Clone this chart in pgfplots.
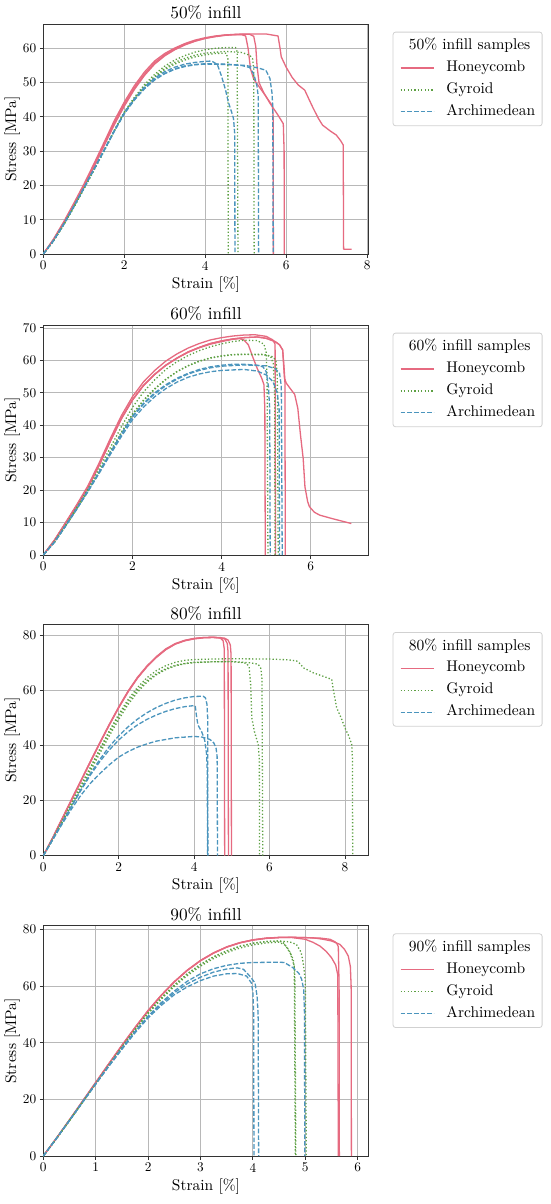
\documentclass[border=0pt]{standalone}
\usepackage{fontspec}
\setmainfont{lmroman10-regular}[Extension=.otf]
\usepackage{pgfplots}
\pgfplotsset{compat=1.18}
\definecolor{honey}{HTML}{E66A80}
\definecolor{gyro}{HTML}{5DA043}
\definecolor{arch}{HTML}{4B95BD}
\definecolor{gridc}{HTML}{B8B8B8}
\pgfplotsset{
  every axis title shift=0pt,
  hc/.style={color=honey, line width=1.3pt, solid, line join=round},
  gy/.style={color=gyro, line width=1.3pt, dash pattern=on 1.3pt off 2.1pt, line join=round},
  ar/.style={color=arch, line width=1.3pt, dash pattern=on 4.6pt off 2pt, line join=round},
  common/.style={
    scale only axis, width=325.4pt, height=230pt, xmin=0, ymin=0,
    anchor=south west,
    grid=major, major grid style={color=gridc, line width=0.8pt},
    axis line style={black!80, line width=0.9pt},
    tick pos=left, tick align=outside, major tick length=3.5pt,
    tick style={black!80, line width=0.9pt},
    ticklabel style={font=\fontsize{13.3}{15}\selectfont},
    /pgf/number format/assume math mode=true,
    label style={font=\fontsize{15.5}{18}\selectfont},
    title style={font=\fontsize{17.3}{20}\selectfont, at={(0.5,1)}, anchor=base, yshift=5.3pt},
    xlabel style={at={(axis description cs:0.5,-0.148)}, anchor=base},
    ylabel style={at={(axis description cs:-0.0839,0.5)}, anchor=base},
    xlabel={Strain [\%]}, ylabel={Stress [MPa]},
    legend cell align=left,
    legend image code/.code={\draw[##1] (0pt,0pt) -- (33pt,0pt);},
    legend style={at={(1.0737,0.9665)}, anchor=north west, draw=black!18, line width=0.8pt,
      rounded corners=2.5pt, fill=white, inner xsep=7pt, inner ysep=5pt,
      font=\fontsize{15.5}{18}\selectfont, column sep=12pt, row sep=3.9pt,
      nodes={inner sep=0pt, text height=12.6pt, text depth=5.4pt}},
  }
}
\begin{document}
\begin{tikzpicture}
\fill[white] (0pt,0pt) rectangle (550pt,-1204pt);
\path[use as bounding box] (0pt,0pt) rectangle (550pt,-1204pt);

% ---------------- 50% ----------------
\begin{axis}[common, at={(43.3pt,-254pt)}, xmax=8.04, ymax=67.1,
  xtick={0,2,4,6,8}, ytick={0,10,...,60}, title={50\% infill}]
\addlegendimage{empty legend}\addlegendentry{\hspace*{-37.6pt}50\% infill samples}
\addplot[hc] coordinates {(0,0)(0.25,4.3)(0.5,9.3)(0.75,14.7)(1,20.3)(1.25,26.3)(1.5,32.5)(1.75,38.8)(2,44.3)(2.25,49.1)(2.5,53.1)(2.75,56.3)(3,58.5)(3.25,60.1)(3.5,61.4)(3.75,62.4)(4,63.1)(4.25,63.6)(4.5,63.9)(4.75,64.0)(4.9,64.0)(5.0,63.6)(5.06,60)(5.12,54)(5.2,51)(5.35,48.5)(5.5,46)(5.66,43.2)(5.68,40)(5.685,0)};
\addlegendentry{Honeycomb}
\addplot[hc, forget plot] coordinates {(0,0)(0.25,4.2)(0.5,9.1)(0.75,14.4)(1,19.9)(1.25,25.8)(1.5,32)(1.75,38.2)(2,43.7)(2.25,48.5)(2.5,52.5)(2.75,55.8)(3,58.1)(3.25,59.8)(3.5,61.1)(3.75,62.1)(4,62.9)(4.25,63.4)(4.5,63.8)(4.75,64)(5.0,64.1)(5.1,64.1)(5.2,63.5)(5.25,60.5)(5.28,55)(5.33,50)(5.45,47)(5.6,44)(5.8,40.5)(5.93,38)(5.95,30)(5.955,0)};
\addplot[hc, forget plot] coordinates {(0,0)(0.25,4.1)(0.5,8.9)(0.75,14.2)(1,19.6)(1.25,25.4)(1.5,31.5)(1.75,37.6)(2,43.1)(2.25,48)(2.5,52.1)(2.75,55.4)(3,57.8)(3.25,59.6)(3.5,61)(3.75,62.1)(4,62.9)(4.25,63.5)(4.5,63.9)(4.75,64.1)(5,64.2)(5.5,64.2)(5.8,63.6)(5.85,60)(5.88,57.5)(6,54.5)(6.15,51.5)(6.3,49.3)(6.46,47.8)(6.57,45)(6.67,42.5)(6.8,39.5)(6.9,37.6)(7.1,35.8)(7.24,34.7)(7.35,33)(7.41,31.8)(7.42,1.4)(7.62,1.4)};
\addplot[gy] coordinates {(0,0)(0.25,3.8)(0.5,8.5)(0.75,13.6)(1,19)(1.25,24.5)(1.5,30)(1.75,35.8)(2,41.2)(2.25,45.3)(2.5,48.8)(2.75,51.6)(3,53.8)(3.25,55.4)(3.5,56.6)(3.75,57.5)(4,58.1)(4.25,58.5)(4.52,58.6)(4.56,57)(4.57,0)};
\addlegendentry{Gyroid}
\addplot[gy, forget plot] coordinates {(0,0)(0.25,3.7)(0.5,8.4)(0.75,13.5)(1,18.9)(1.25,24.4)(1.5,30)(1.75,35.9)(2,41.4)(2.25,45.7)(2.5,49.4)(2.75,52.4)(3,54.8)(3.25,56.6)(3.5,57.9)(3.75,58.9)(4,59.6)(4.25,60)(4.5,60.2)(4.75,60.2)(4.79,59)(4.81,0)};
\addplot[gy, forget plot] coordinates {(0,0)(0.25,3.8)(0.5,8.5)(0.75,13.6)(1,19.1)(1.25,24.6)(1.5,30.2)(1.75,36)(2,41.3)(2.25,45.4)(2.5,48.9)(2.75,51.8)(3,54.1)(3.25,55.9)(3.5,57.1)(3.75,58)(4,58.6)(4.5,59.1)(4.9,58.8)(5.1,58)(5.17,57)(5.2,54)(5.21,0)};
\addplot[ar] coordinates {(0,0)(0.25,3.9)(0.5,8.6)(0.75,13.8)(1,19.2)(1.25,24.7)(1.5,30.3)(1.75,35.9)(2,41.2)(2.25,45.3)(2.5,48.7)(2.75,51.3)(3,53.2)(3.25,54.5)(3.5,55.4)(3.75,55.9)(4,56.2)(4.16,56.3)(4.3,55.3)(4.4,52)(4.5,48)(4.57,44.4)(4.65,41.5)(4.7,39.5)(4.73,35)(4.735,0)};
\addlegendentry{Archimedean}
\addplot[ar, forget plot] coordinates {(0,0)(0.25,3.9)(0.5,8.6)(0.75,13.8)(1,19.2)(1.25,24.7)(1.5,30.2)(1.75,35.8)(2,41)(2.25,45)(2.5,48.3)(2.75,50.8)(3,52.6)(3.25,53.9)(3.5,54.7)(3.75,55.2)(4,55.4)(4.5,55.3)(4.9,55)(5.1,54.4)(5.2,52.5)(5.28,49)(5.31,46)(5.32,0)};
\addplot[ar, forget plot] coordinates {(0,0)(0.25,3.8)(0.5,8.5)(0.75,13.7)(1,19.1)(1.25,24.6)(1.5,30.1)(1.75,35.7)(2,40.9)(2.25,44.9)(2.5,48.2)(2.75,50.8)(3,52.7)(3.25,54)(3.5,54.9)(3.75,55.3)(4,55.5)(4.5,55.4)(5,55)(5.3,54.3)(5.5,53.6)(5.6,51.2)(5.65,47)(5.67,43)(5.68,0)};
\end{axis}

% ---------------- 60% ----------------
\begin{axis}[common, at={(43.3pt,-555pt)}, xmax=7.3, ymax=70.9,
  xtick={0,2,4,6}, ytick={0,10,...,70}, title={60\% infill}]
\addlegendimage{empty legend}\addlegendentry{\hspace*{-37.6pt}60\% infill samples}
\addplot[hc] coordinates {(0,0)(0.25,4.5)(0.5,9.8)(0.75,15.2)(1,20.8)(1.25,27.6)(1.5,35)(1.75,42)(2,47.8)(2.25,52.3)(2.5,55.7)(2.75,58.5)(3,60.7)(3.25,62.5)(3.5,63.9)(3.75,65)(4,65.8)(4.25,66.5)(4.4,66.7)(4.5,66.3)(4.6,64.8)(4.7,61)(4.8,57.5)(4.9,54.5)(4.95,52.5)(4.97,45)(4.98,0)};
\addlegendentry{Honeycomb}
\addplot[hc, forget plot] coordinates {(0,0)(0.25,4.6)(0.5,10)(0.75,15.5)(1,21.3)(1.25,28.3)(1.5,35.8)(1.75,42.9)(2,48.8)(2.25,53.4)(2.5,56.9)(2.75,59.8)(3,62)(3.25,63.8)(3.5,65.2)(3.75,66.3)(4,67)(4.25,67.5)(4.5,67.8)(4.75,67.9)(5,67.4)(5.15,66.3)(5.2,65)(5.21,0)};
\addplot[hc, forget plot] coordinates {(0,0)(0.25,4.5)(0.5,9.8)(0.75,15.2)(1,20.8)(1.25,27.6)(1.5,35)(1.75,42)(2,47.8)(2.25,52.3)(2.5,55.7)(2.75,58.5)(3,60.7)(3.25,62.6)(3.5,64)(3.75,65.2)(4,66)(4.25,66.6)(4.5,67)(4.8,67.2)(5,66.8)(5.2,65.8)(5.3,64.8)(5.37,63.2)(5.4,58)(5.42,54)(5.43,0)};
\addplot[hc, forget plot] coordinates {(0,0)(0.25,4.5)(0.5,9.8)(0.75,15.2)(1,20.8)(1.25,27.6)(1.5,35)(1.75,42)(2,47.8)(2.25,52.3)(2.5,55.7)(2.75,58.5)(3,60.7)(3.25,62.6)(3.5,64)(3.75,65.2)(4,66)(4.25,66.6)(4.5,67)(4.8,67.2)(5,66.8)(5.2,65.8)(5.3,64.8)(5.37,63.2)(5.41,54.5)(5.45,53)(5.53,51.5)(5.64,49.5)(5.71,45.2)(5.77,37)(5.83,29.8)(5.87,21)(5.93,16.5)(5.97,14.9)(6.08,13.2)(6.2,12.3)(6.46,11.3)(6.6,10.8)(6.91,9.7)};
\addplot[gy] coordinates {(0,0)(0.25,4.2)(0.5,9.3)(0.75,14.7)(1,20.3)(1.25,26.5)(1.5,33)(1.75,39.5)(2,45.5)(2.25,50.3)(2.5,54)(2.75,57.2)(3,59.6)(3.25,61.5)(3.5,63)(3.75,64.2)(4,65.1)(4.25,65.8)(4.5,66.2)(4.8,66.1)(4.95,65)(5,62.5)(5.02,55)(5.04,0)};
\addlegendentry{Gyroid}
\addplot[gy, forget plot] coordinates {(0,0)(0.25,4)(0.5,9)(0.75,14.3)(1,19.8)(1.25,25.6)(1.5,31.8)(1.75,37.8)(2,43.5)(2.25,47.8)(2.5,51.3)(2.75,54.2)(3,56.6)(3.25,58.4)(3.5,59.8)(3.75,60.8)(4,61.4)(4.25,61.8)(4.5,61.9)(4.9,61.9)(5.1,61.2)(5.16,59)(5.19,50)(5.2,0)};
\addplot[gy, forget plot] coordinates {(0,0)(0.25,3.9)(0.5,8.9)(0.75,14.2)(1,19.7)(1.25,25.5)(1.5,31.6)(1.75,37.6)(2,43.3)(2.25,47.6)(2.5,51.1)(2.75,54.1)(3,56.5)(3.25,58.3)(3.5,59.7)(3.75,60.7)(4,61.3)(4.25,61.7)(4.5,61.8)(5,61.7)(5.15,61.1)(5.22,60)(5.25,55)(5.27,0)};
\addplot[ar] coordinates {(0,0)(0.25,4)(0.5,9)(0.75,14.3)(1,19.8)(1.25,25.5)(1.5,31.5)(1.75,37.3)(2,42.8)(2.25,46.8)(2.5,50)(2.75,52.5)(3,54.5)(3.25,56)(3.5,57.2)(3.75,58)(4,58.5)(4.25,58.8)(4.5,58.8)(4.8,58.5)(4.93,58)(5,56.5)(5.05,52)(5.08,45)(5.09,0)};
\addlegendentry{Archimedean}
\addplot[ar, forget plot] coordinates {(0,0)(0.25,3.9)(0.5,8.9)(0.75,14.1)(1,19.5)(1.25,25.1)(1.5,30.9)(1.75,36.5)(2,41.7)(2.25,45.6)(2.5,48.8)(2.75,51.3)(3,53.3)(3.25,54.8)(3.5,55.8)(3.75,56.5)(4,56.9)(4.5,57.2)(4.8,56.7)(5,55.5)(5.15,53.5)(5.25,50)(5.29,45)(5.3,0)};
\addplot[ar, forget plot] coordinates {(0,0)(0.25,4)(0.5,9)(0.75,14.2)(1,19.7)(1.25,25.4)(1.5,31.3)(1.75,37.1)(2,42.5)(2.25,46.5)(2.5,49.7)(2.75,52.2)(3,54.2)(3.25,55.8)(3.5,56.9)(3.75,57.7)(4,58.2)(4.5,58.6)(5,58.3)(5.2,57.5)(5.3,56)(5.34,52)(5.36,0)};
\end{axis}

% ---------------- 80% ----------------
\begin{axis}[common, at={(43.3pt,-855.7pt)}, height=231.4pt, xmax=8.63, ymax=84,
  xtick={0,2,4,6,8}, ytick={0,20,...,80}, title={80\% infill},
  xlabel style={at={(axis description cs:0.5,-0.147)}}]
\addlegendimage{empty legend}\addlegendentry{\hspace*{-37.6pt}80\% infill samples}
\addplot[hc] coordinates {(0,0)(0.25,6.6)(0.5,13.5)(0.75,20.5)(1,27.4)(1.25,34.3)(1.5,41.1)(1.75,47.7)(2,54)(2.25,59.8)(2.5,64.8)(2.75,68.9)(3,72.3)(3.25,75.1)(3.5,77)(3.75,78.2)(4,78.9)(4.25,79.2)(4.5,79.3)(4.7,79.0)(4.77,78)(4.8,75)(4.81,0)};
\addlegendentry{Honeycomb}
\addplot[hc, forget plot] coordinates {(0,0)(0.25,6.5)(0.5,13.4)(0.75,20.3)(1,27.2)(1.25,34.1)(1.5,40.9)(1.75,47.5)(2,53.8)(2.25,59.6)(2.5,64.6)(2.75,68.7)(3,72.1)(3.25,74.9)(3.5,76.9)(3.75,78.1)(4,78.8)(4.25,79.2)(4.5,79.3)(4.7,79.2)(4.82,78.6)(4.88,77)(4.9,74)(4.91,0)};
\addplot[hc, forget plot] coordinates {(0,0)(0.25,6.4)(0.5,13.3)(0.75,20.2)(1,27.1)(1.25,34)(1.5,40.8)(1.75,47.4)(2,53.7)(2.25,59.5)(2.5,64.5)(2.75,68.6)(3,72)(3.25,74.8)(3.5,76.8)(3.75,78)(4,78.7)(4.25,79.1)(4.5,79.2)(4.8,79.0)(4.9,78.3)(4.96,76.5)(4.98,73)(4.99,0)};
\addplot[gy] coordinates {(0,0)(0.25,6)(0.5,12.4)(0.75,18.8)(1,25.2)(1.25,31.6)(1.5,38.2)(1.75,44.6)(2,50.6)(2.25,55.9)(2.5,60.2)(2.75,63.6)(3,66.1)(3.25,67.9)(3.5,69.1)(3.75,69.8)(4,70.2)(4.5,70.4)(5,70.4)(5.3,70.1)(5.39,69.8)(5.46,68.5)(5.5,62)(5.53,50)(5.6,45)(5.7,40.4)(5.73,35)(5.735,0)};
\addlegendentry{Gyroid}
\addplot[gy, forget plot] coordinates {(0,0)(0.25,5.8)(0.5,12)(0.75,18.2)(1,24.5)(1.25,30.8)(1.5,37.2)(1.75,43.5)(2,49.5)(2.25,54.9)(2.5,59.4)(2.75,63)(3,65.7)(3.25,67.6)(3.5,68.9)(3.75,69.7)(4,70.1)(4.5,70.4)(5,70.5)(5.5,70)(5.7,69.5)(5.77,68)(5.8,64)(5.82,0)};
\addplot[gy, forget plot] coordinates {(0,0)(0.25,6.2)(0.5,12.7)(0.75,19.2)(1,25.7)(1.25,32.2)(1.5,38.8)(1.75,45.3)(2,51.3)(2.25,56.7)(2.5,61.1)(2.75,64.6)(3,67.2)(3.25,69)(3.5,70.2)(3.75,70.9)(4,71.2)(4.5,71.4)(5,71.5)(6,71.4)(6.5,71.1)(6.72,70.7)(6.8,69.8)(6.9,68.2)(7.16,66.4)(7.45,65)(7.65,64)(7.69,60.4)(7.78,53.7)(7.9,50)(8,46.4)(8.1,43.5)(8.18,40.4)(8.2,35)(8.205,0)};
\addplot[ar] coordinates {(0,0)(0.25,6)(0.5,12)(0.75,18)(1,24)(1.25,29.8)(1.5,35)(1.75,39.6)(2,43.5)(2.25,46.8)(2.5,49.6)(2.75,51.9)(3,53.8)(3.25,55.3)(3.5,56.5)(3.75,57.3)(4,57.8)(4.24,57.9)(4.3,57.3)(4.34,55)(4.36,50)(4.365,0)};
\addlegendentry{Archimedean}
\addplot[ar, forget plot] coordinates {(0,0)(0.25,6)(0.5,12)(0.75,18)(1,23.8)(1.25,29.3)(1.5,34.2)(1.75,38.4)(2,42)(2.25,45)(2.5,47.5)(2.75,49.5)(3,51.1)(3.25,52.4)(3.5,53.4)(3.75,54.1)(4,54.5)(4.03,54.4)(4.06,51)(4.1,47.5)(4.2,45)(4.28,42)(4.33,37)(4.35,30)(4.355,0)};
\addplot[ar, forget plot] coordinates {(0,0)(0.25,5.8)(0.5,11.5)(0.75,17)(1,22)(1.25,26.3)(1.5,29.8)(1.75,33)(2,35.8)(2.25,37.8)(2.5,39.4)(2.75,40.6)(3,41.6)(3.5,42.8)(4,43.3)(4.2,43.1)(4.42,42.2)(4.52,41)(4.58,39.2)(4.61,36)(4.62,0)};
\end{axis}

% ---------------- 90% ----------------
\begin{axis}[common, at={(43.3pt,-1156pt)}, height=230.3pt, xmax=6.21, ymax=81.4,
  xtick={0,1,...,6}, ytick={0,20,...,80}, title={90\% infill}]
\addlegendimage{empty legend}\addlegendentry{\hspace*{-37.6pt}90\% infill samples}
\addplot[hc] coordinates {(0,0)(0.25,6.3)(0.5,12.8)(0.75,19.4)(1,26)(1.25,32.6)(1.5,39.1)(1.75,45.4)(2,51.4)(2.25,56.8)(2.5,61.6)(2.75,65.7)(3,69.1)(3.25,71.8)(3.5,73.9)(3.75,75.4)(4,76.4)(4.25,77)(4.5,77.3)(4.75,77.3)(5,77.2)(5.3,77)(5.47,76.6)(5.56,75.8)(5.6,75.2)(5.63,74)(5.645,60)(5.65,0)};
\addlegendentry{Honeycomb}
\addplot[hc, forget plot] coordinates {(0,0)(0.25,6.3)(0.5,12.8)(0.75,19.4)(1,26)(1.25,32.6)(1.5,39.1)(1.75,45.4)(2,51.4)(2.25,56.8)(2.5,61.6)(2.75,65.7)(3,69.1)(3.25,71.8)(3.5,73.9)(3.75,75.4)(4,76.4)(4.25,77)(4.5,77.2)(4.75,77.2)(5,76.6)(5.15,75.5)(5.28,74.2)(5.4,72.3)(5.5,70.1)(5.58,67.5)(5.62,64)(5.63,0)};
\addplot[hc, forget plot] coordinates {(0,0)(0.25,6.2)(0.5,12.7)(0.75,19.3)(1,25.9)(1.25,32.5)(1.5,39)(1.75,45.3)(2,51.3)(2.25,56.7)(2.5,61.5)(2.75,65.6)(3,69)(3.25,71.7)(3.5,73.8)(3.75,75.3)(4,76.3)(4.25,76.9)(4.5,77.2)(4.75,77.3)(5,77.2)(5.2,77)(5.34,76.6)(5.5,76)(5.66,74.8)(5.75,73)(5.82,70.7)(5.86,67)(5.875,60)(5.88,0)};
\addplot[gy] coordinates {(0,0)(0.25,6.2)(0.5,12.6)(0.75,19.1)(1,25.6)(1.25,32.1)(1.5,38.5)(1.75,44.7)(2,50.6)(2.25,55.8)(2.5,60.4)(2.75,64.4)(3,67.7)(3.25,70.4)(3.5,72.5)(3.75,74.1)(4,75.2)(4.25,75.8)(4.5,76)(4.58,75.4)(4.68,73)(4.77,69.5)(4.8,65)(4.82,0)};
\addlegendentry{Gyroid}
\addplot[gy, forget plot] coordinates {(0,0)(0.25,6.2)(0.5,12.6)(0.75,19.1)(1,25.6)(1.25,32.1)(1.5,38.5)(1.75,44.7)(2,50.6)(2.25,55.8)(2.5,60.4)(2.75,64.4)(3,67.7)(3.25,70.4)(3.5,72.5)(3.75,74.1)(4,75.2)(4.25,75.8)(4.5,76)(4.7,75.7)(4.83,74.8)(4.92,72)(4.96,68.3)(5,62)(5.02,0)};
\addplot[gy, forget plot] coordinates {(0,0)(0.25,6.1)(0.5,12.5)(0.75,19)(1,25.5)(1.25,32)(1.5,38.4)(1.75,44.5)(2,50.3)(2.25,55.4)(2.5,59.9)(2.75,63.8)(3,67.1)(3.25,69.8)(3.5,71.9)(3.75,73.5)(4,74.6)(4.25,75.3)(4.5,75.6)(4.62,74.5)(4.72,71.5)(4.79,67)(4.81,0)};
\addplot[ar] coordinates {(0,0)(0.25,6.2)(0.5,12.6)(0.75,19.1)(1,25.5)(1.25,31.9)(1.5,38.1)(1.75,44)(2,49.4)(2.25,54.2)(2.5,58.3)(2.75,61.8)(3,64.4)(3.25,66.2)(3.5,67.4)(3.75,68.1)(4,68.4)(4.5,68.5)(4.6,68.4)(4.77,66.5)(4.88,64.5)(4.93,62.5)(4.97,58.9)(4.985,50)(4.99,0)};
\addlegendentry{Archimedean}
\addplot[ar, forget plot] coordinates {(0,0)(0.25,6.2)(0.5,12.6)(0.75,19.1)(1,25.5)(1.25,31.8)(1.5,37.9)(1.75,43.8)(2,49.2)(2.25,53.8)(2.5,57.7)(2.75,60.9)(3,63.2)(3.25,65)(3.5,66.1)(3.7,66.5)(3.82,66)(3.94,63.6)(4.04,61.2)(4.08,56.5)(4.1,50)(4.11,0)};
\addplot[ar, forget plot] coordinates {(0,0)(0.25,6.2)(0.5,12.5)(0.75,19)(1,25.4)(1.25,31.7)(1.5,37.7)(1.75,43.5)(2,48.8)(2.25,53.2)(2.5,57)(2.75,59.8)(3,62)(3.25,63.6)(3.5,64.4)(3.7,64.5)(3.88,63.6)(3.97,61.2)(4,58)(4.015,50)(4.02,0)};
\end{axis}
\end{tikzpicture}
\end{document}
